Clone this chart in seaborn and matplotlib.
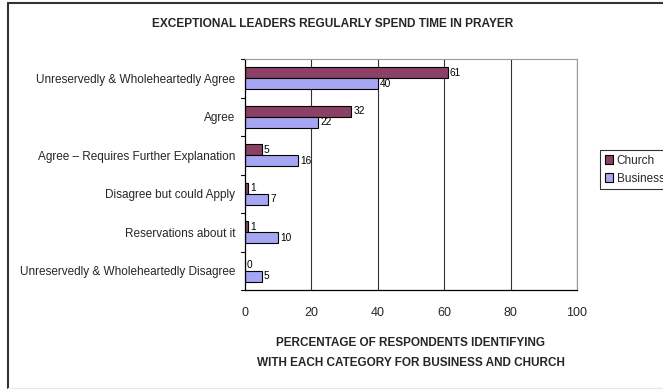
import matplotlib
matplotlib.use("Agg")
import matplotlib.pyplot as plt
import seaborn as sns
import pandas as pd
from matplotlib.lines import Line2D

categories = [
    "Unreservedly & Wholeheartedly Agree",
    "Agree",
    "Agree \u2013 Requires Further Explanation",
    "Disagree but could Apply",
    "Reservations about it",
    "Unreservedly & Wholeheartedly Disagree",
]
church = [61, 32, 5, 1, 1, 0]
business = [40, 22, 16, 7, 10, 5]
series = ["Church", "Business"]
colors = ["#993366", "#9999FF"]
x_ticks = [0, 20, 40, 60, 80, 100]

df = pd.DataFrame({
    "category": categories * 2,
    "value": church + business,
    "series": ["Church"] * len(categories) + ["Business"] * len(categories),
})

sns.set_style("white")
plt.rcParams["font.family"] = ["Liberation Sans", "DejaVu Sans"]

fig = plt.figure(figsize=(6.63, 3.89), dpi=100)
ax = fig.add_axes([245 / 663, 1 - 290 / 389, (577 - 245) / 663, (290 - 59) / 389])

sns.barplot(
    data=df, y="category", x="value", hue="series", hue_order=series,
    order=categories, palette=colors, orient="h", width=0.57, gap=0,
    edgecolor="black", linewidth=0.8, ax=ax, legend=True,
)

for cont in ax.containers:
    ax.bar_label(cont, padding=1.5, fontsize=7.3, color="black")

ax.set_xlim(0, 100)
ax.set_ylim(len(categories) - 0.5, -0.5)
ax.set_xticks(x_ticks)
ax.set_xticklabels([str(t) for t in x_ticks], fontsize=9)
ax.tick_params(axis="x", direction="out", length=4, width=0.8, color="black", pad=8)

# category boundary ticks on the value axis
ax.set_yticks(range(len(categories)))
ax.set_yticklabels(categories, fontsize=8.5)
ax.tick_params(axis="y", length=0, pad=7)
for b in [i - 0.5 for i in range(len(categories) + 1)]:
    ax.plot([-0.012, 0], [b, b], transform=ax.get_yaxis_transform(),
            color="black", lw=0.8, clip_on=False)

for t in x_ticks[1:]:
    ax.axvline(t, color="#333333", lw=0.8, zorder=0)

for side in ["left", "bottom"]:
    ax.spines[side].set_color("black")
    ax.spines[side].set_linewidth(0.9)
for side in ["top", "right"]:
    ax.spines[side].set_color("#999999")
    ax.spines[side].set_linewidth(0.8)

ax.set_ylabel("")
ax.set_xlabel("PERCENTAGE OF RESPONDENTS IDENTIFYING\nWITH EACH CATEGORY FOR BUSINESS AND CHURCH",
              fontsize=8.5, fontweight="bold", labelpad=13, linespacing=1.9)

leg = ax.legend(loc="upper left", bbox_to_anchor=(600 / 663, 1 - 150 / 389),
                bbox_transform=fig.transFigure, fontsize=8.5, frameon=True,
                fancybox=False, edgecolor="black", handlelength=0.7,
                handleheight=0.7, handletextpad=0.3, borderpad=0.4,
                labelspacing=0.5, borderaxespad=0)
leg.get_frame().set_linewidth(0.8)

fig.text(333 / 663, 1 - 24 / 389, "EXCEPTIONAL LEADERS REGULARLY SPEND TIME IN PRAYER",
         ha="center", va="center", fontsize=8.6, fontweight="bold")

# chart frame: dark top and left edges, faint bottom edge
x0, y_top, y_bot = 7.5 / 663, 1 - 2.5 / 389, 1 - 387.5 / 389
fig.add_artist(Line2D([x0, 1], [y_top, y_top], transform=fig.transFigure,
                      color="#333333", lw=1.5))
fig.add_artist(Line2D([x0, x0], [y_bot, y_top], transform=fig.transFigure,
                      color="#333333", lw=1.5))
fig.add_artist(Line2D([x0, 1], [y_bot, y_bot], transform=fig.transFigure,
                      color="#e6e6e6", lw=1.0))

fig.savefig("out.png", dpi=100)
